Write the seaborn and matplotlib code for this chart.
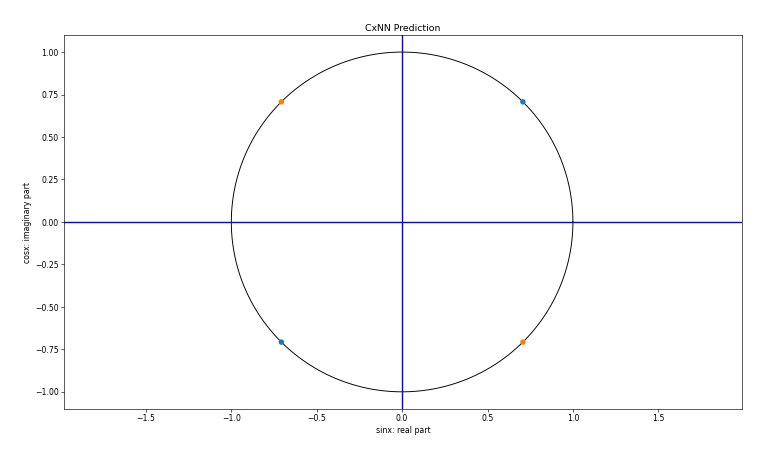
import numpy as np
import pandas as pd
import matplotlib
matplotlib.use('Agg')
import matplotlib.pyplot as plt
import seaborn as sns

# predicted points on the unit circle
real_part = [0.7071, -0.7071, -0.7071, 0.7071]
imag_part = [0.7071, -0.7071, 0.7071, -0.7071]
group = ['a', 'a', 'b', 'b']

pred = pd.DataFrame({'sinx': real_part, 'cosx': imag_part, 'group': group})

# big figure drawn at low dpi, so default font sizes come out small
fig, ax = plt.subplots(figsize=(13.59, 8.27), dpi=56)
fig.subplots_adjust(left=0.084, right=0.975, top=0.924, bottom=0.117)

theta = np.linspace(0, 2 * np.pi, 400)
ax.plot(np.cos(theta), np.sin(theta), color='black', linewidth=1.2)
ax.axhline(0, color='blue', linewidth=1.8)
ax.axvline(0, color='blue', linewidth=1.8)

sns.scatterplot(x='sinx', y='cosx', hue='group', data=pred, palette=['#1f77b4', '#ff7f0e'],
                s=50, edgecolor='none', legend=False, ax=ax, zorder=3)

ax.set_xlim(-1.98, 1.99)
ax.set_ylim(-1.1, 1.1)
ax.set_xticks([-1.5, -1.0, -0.5, 0.0, 0.5, 1.0, 1.5])
ax.set_yticks([-1.0, -0.75, -0.5, -0.25, 0.0, 0.25, 0.5, 0.75, 1.0])
ax.set_title('CxNN Prediction')
ax.set_xlabel('sinx: real part')
ax.set_ylabel('cosx: imaginary part')
plt.savefig('out.png', dpi=56)
